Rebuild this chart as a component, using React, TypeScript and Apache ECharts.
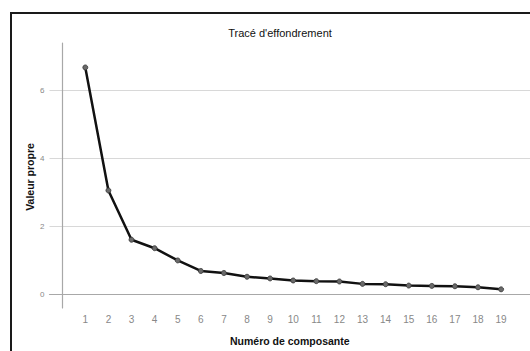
import React, { useEffect, useRef } from "react";
import * as echarts from "echarts";

const components = [1, 2, 3, 4, 5, 6, 7, 8, 9, 10, 11, 12, 13, 14, 15, 16, 17, 18, 19];
const eigenvalues = [6.68, 3.06, 1.61, 1.36, 1.0, 0.69, 0.63, 0.52, 0.47, 0.41, 0.39, 0.38, 0.31, 0.3, 0.26, 0.25, 0.24, 0.21, 0.15];
const yTicks = [0, 2, 4, 6];

export default function App() {
  const ref = useRef<HTMLDivElement>(null);
  useEffect(() => {
    if (!ref.current) return;
    const chart = echarts.init(ref.current, null, { renderer: "svg" });
    chart.setOption({
      animation: false,
      backgroundColor: "#ffffff",
      textStyle: { fontFamily: "Liberation Sans, Arial, sans-serif" },
      title: {
        text: "Tracé d'effondrement",
        left: 275,
        textAlign: "center",
        top: 22,
        textStyle: { fontSize: 11, fontWeight: "normal", color: "#111", fontFamily: "Liberation Sans" },
      },
      graphic: [
        {
          type: "line",
          shape: { x1: 11, y1: 13, x2: 11, y2: 351 },
          style: { stroke: "#1a1a1a", lineWidth: 2 },
          silent: true,
        },
        {
          type: "line",
          shape: { x1: 10, y1: 13, x2: 530, y2: 13 },
          style: { stroke: "#1a1a1a", lineWidth: 2 },
          silent: true,
        },
        {
          type: "text",
          x: 30,
          y: 177,
          rotation: Math.PI / 2,
          style: {
            text: "Valeur propre",
            fontSize: 10.5,
            fontWeight: "bold",
            fill: "#111",
            fontFamily: "Liberation Sans",
            align: "center",
            verticalAlign: "middle",
          },
          silent: true,
        },
      ],
      grid: { left: 49.5, top: 43, right: 0, bottom: 41 },
      xAxis: {
        type: "value",
        min: -0.55,
        max: 20.25,
        name: "Numéro de composante",
        nameLocation: "middle",
        nameGap: 27,
        nameTextStyle: { fontSize: 10.5, fontWeight: "bold", color: "#111", fontFamily: "Liberation Sans" },
        axisLine: { show: true, lineStyle: { color: "#a8a8a8", width: 1.2 } },
        axisTick: { show: false, customValues: components },
        axisLabel: { customValues: components, fontSize: 10, color: "#888", margin: 6, fontFamily: "Liberation Sans" },
        splitLine: { show: false },
      },
      yAxis: {
        type: "value",
        min: -0.4,
        max: 7.4,
        axisLine: { show: true, lineStyle: { color: "#a8a8a8", width: 1.2 } },
        axisTick: { show: false, customValues: yTicks },
        axisLabel: { customValues: yTicks, fontSize: 8, color: "#888", margin: 5, fontFamily: "Liberation Sans" },
        splitLine: { show: true, lineStyle: { color: "#d8d8d8", width: 1 } },
      },
      series: [
        {
          type: "line",
          data: components.map((c, i) => [c, eigenvalues[i]]),
          symbol: "circle",
          symbolSize: 5,
          lineStyle: { color: "#111", width: 2.5 },
          itemStyle: { color: "#6a6a6a", borderColor: "#333", borderWidth: 0.8 },
          z: 3,
        },
      ],
    });
    return () => chart.dispose();
  }, []);
  return <div ref={ref} style={{ position: "fixed", left: 0, top: 0, width: 530, height: 351 }} />;
}
